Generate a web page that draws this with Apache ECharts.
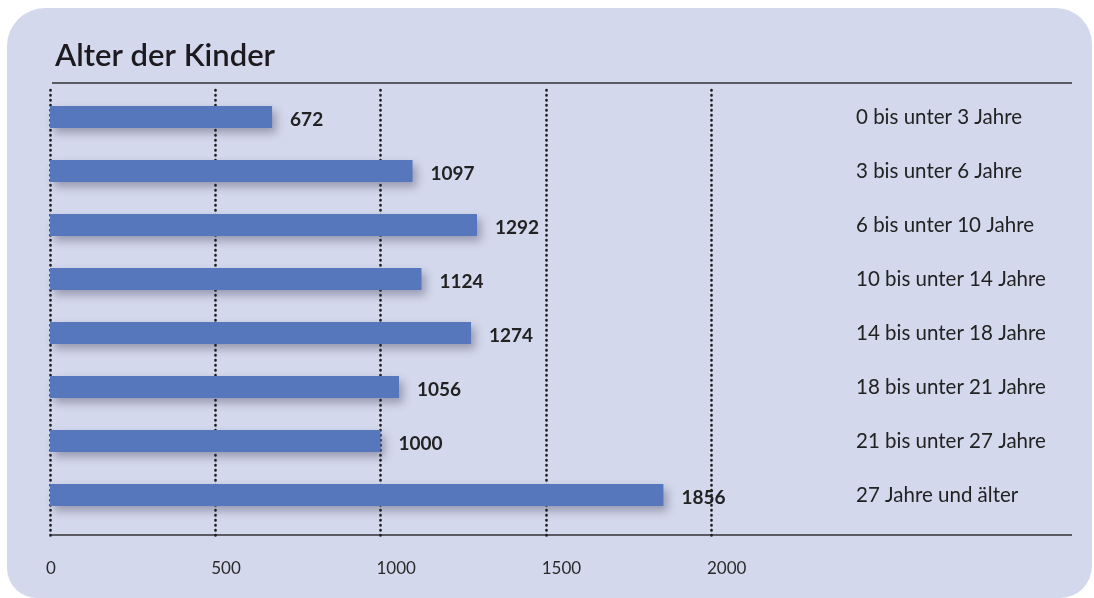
<!DOCTYPE html>
<html>
<head>
<meta charset="utf-8">
<script src="https://cdn.jsdelivr.net/npm/echarts@6/dist/echarts.min.js"></script>
<style>
  html, body { margin: 0; padding: 0; background: #ffffff; }
  #wrap { position: relative; width: 1094px; height: 598px; }
  #panel {
    position: absolute; left: 7px; top: 8px; width: 1085px; height: 590px;
    background: #d4d8ec; border-radius: 38px 36px 32px 30px;
  }
  #main { position: absolute; left: 0; top: 0; width: 1094px; height: 598px; }
</style>
</head>
<body>
<div id="wrap">
  <div id="panel"></div>
  <div id="main"></div>
</div>
<script>
// Altersgruppen und Anzahl
const categories = ['0 bis unter 3 Jahre', '3 bis unter 6 Jahre', '6 bis unter 10 Jahre', '10 bis unter 14 Jahre',
  '14 bis unter 18 Jahre', '18 bis unter 21 Jahre', '21 bis unter 27 Jahre', '27 Jahre und älter'];
const values = [672, 1097, 1292, 1124, 1274, 1056, 1000, 1856];
const axisMin = 0;
const axisMax = 2000;
const axisStep = 500;

const font = 'Lato, "Open Sans", sans-serif';
const chart = echarts.init(document.getElementById('main'));

const option = {
  animation: false,
  backgroundColor: 'transparent',
  title: {
    text: 'Alter der Kinder',
    left: 50, top: 35,
    textStyle: { fontFamily: font, fontSize: 31, fontWeight: 600, color: '#1c1a1f' }
  },
  grid: [
    { left: 50, width: 661, top: 90, height: 432 },
    // zweites Grid nur fuer die gepunkteten Linien und die Achsenbeschriftung
    { left: 50, width: 661, top: 90, bottom: 58 }
  ],
  xAxis: [
    {
      gridIndex: 0, type: 'value', min: axisMin, max: axisMax, interval: axisStep,
      axisLine: { show: false }, axisTick: { show: false }, axisLabel: { show: false },
      splitLine: { show: false }
    },
    {
      gridIndex: 1, type: 'value', min: axisMin, max: axisMax, interval: axisStep,
      axisLine: { show: false }, axisTick: { show: false },
      axisLabel: {
        margin: 20, align: 'left', padding: [0, 0, 0, -4], fontFamily: font, fontSize: 17, color: '#2a2a2a',
        formatter: v => String(v)
      },
      splitLine: { show: true, lineStyle: { type: [0.5, 4.5], width: 2.6, cap: 'round', color: '#1e1e1e' } }
    }
  ],
  yAxis: [
    {
      gridIndex: 0, type: 'category', data: categories, inverse: true, position: 'right',
      axisLine: { show: false }, axisTick: { show: false },
      axisLabel: {
        margin: 145, align: 'left', verticalAlign: 'middle', padding: [0, 0, 6, 0],
        fontFamily: font, fontSize: 20.5, color: '#222'
      }
    },
    {
      gridIndex: 1, type: 'category', data: categories, show: false
    }
  ],
  graphic: [
    { type: 'line', shape: { x1: 52, y1: 83, x2: 1072, y2: 83 }, style: { stroke: '#333', lineWidth: 1.5 } },
    { type: 'line', shape: { x1: 50, y1: 535, x2: 1072, y2: 535 }, style: { stroke: '#333', lineWidth: 1.5 } }
  ],
  series: [
    {
      type: 'bar',
      xAxisIndex: 0, yAxisIndex: 0,
      data: values,
      barWidth: 22,
      itemStyle: {
        color: '#5677bb',
        shadowColor: 'rgba(40,40,70,0.35)', shadowBlur: 8, shadowOffsetX: 4, shadowOffsetY: 5
      },
      label: {
        show: true, position: 'right', distance: 18, offset: [0, 3],
        fontFamily: font, fontSize: 19, fontWeight: 'bold', color: '#222'
      }
    }
  ]
};
chart.setOption(option);
</script>
</body>
</html>
